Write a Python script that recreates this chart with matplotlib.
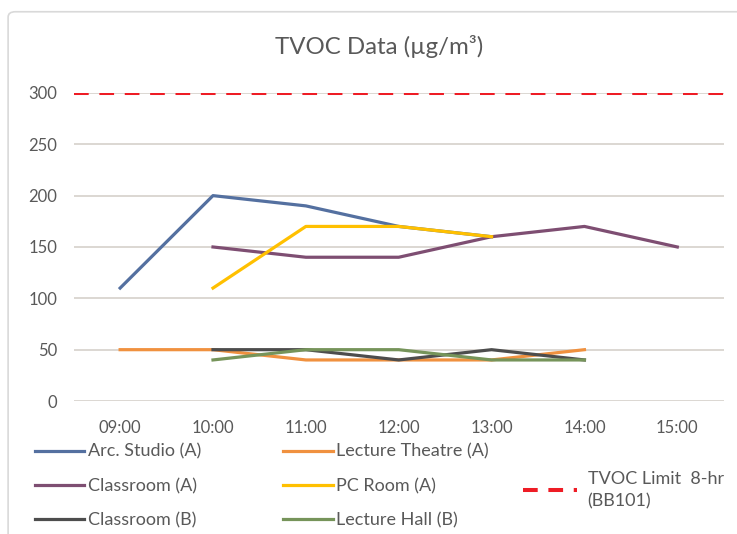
import matplotlib.pyplot as plt
from matplotlib.lines import Line2D
from matplotlib.patches import FancyBboxPatch
import numpy as np

plt.rcParams['font.family'] = ['Lato', 'DejaVu Sans']

hours = ["09:00", "10:00", "11:00", "12:00", "13:00", "14:00", "15:00"]
nan = np.nan

arc_studio_a = [110, 200, 190, 170, 160, nan, nan]
lecture_theatre_a = [50, 50, 40, 40, 40, 50, nan]
classroom_a = [nan, 150, 140, 140, 160, 170, 150]
pc_room_a = [nan, 110, 170, 170, 160, nan, nan]
classroom_b = [nan, 50, 50, 40, 50, 40, nan]
lecture_hall_b = [nan, 40, 50, 50, 40, 40, nan]
tvoc_limit = 300

series = [
    ("Arc. Studio (A)", arc_studio_a, "#5470a0"),
    ("Lecture Theatre (A)", lecture_theatre_a, "#f0913f"),
    ("Classroom (A)", classroom_a, "#7e4e72"),
    ("PC Room (A)", pc_room_a, "#ffc000"),
    ("Classroom (B)", classroom_b, "#4d4d4d"),
    ("Lecture Hall (B)", lecture_hall_b, "#76945a"),
]
LIMIT_COL = "#ee1c25"
TXT = "#595959"
LW = 2.3

fig = plt.figure(figsize=(7.37, 5.34), dpi=100)
ax = fig.add_axes([0.100, 0.249, 0.882, 0.577])

# chart frame
fig.patches.append(FancyBboxPatch((0.011, -0.05), 1.2, 1.028, boxstyle="round,pad=0,rounding_size=0.01",
                                  transform=fig.transFigure, fill=False, edgecolor="#d9d9d9", linewidth=1.2))

x = np.arange(len(hours))
for name, vals, col in series:
    ax.plot(x, vals, color=col, linewidth=LW)

ax.axhline(tvoc_limit, color=LIMIT_COL, linewidth=2.9, linestyle=(0, (3.65, 2.65)), zorder=3)

ax.set_xlim(-0.5, len(hours) - 0.5)
ax.set_ylim(0, 300)
ax.set_yticks(range(0, 301, 50))
ax.set_xticks(x)
ax.set_xticklabels(hours)
ax.grid(axis='y', color="#d9d4cf", linewidth=1.3)
ax.set_axisbelow(True)
for s in ax.spines.values():
    s.set_visible(False)
ax.tick_params(length=0, labelsize=12, labelcolor=TXT)
ax.tick_params(axis='x', pad=14)
ax.tick_params(axis='y', pad=12)

fig.text(0.514, 0.912, "TVOC Data (µg/m³)", ha='center', va='center', fontsize=17.3, color=TXT)

# legend: three fixed-width columns like the spreadsheet layout
def column_legend(items, x0, y0):
    hs = [Line2D([], [], color=c, linewidth=LW) for _, _, c in items]
    lg = fig.legend(hs, [n for n, _, _ in items], loc='center left', bbox_to_anchor=(x0, y0),
                    frameon=False, fontsize=13, handlelength=2.75, handletextpad=0.2,
                    labelspacing=1.0, borderaxespad=0, borderpad=0, labelcolor=TXT)
    return lg

column_legend([series[0], series[2], series[4]], 0.047, 0.0899)
column_legend([series[1], series[3], series[5]], 0.384, 0.0899)
lim_leg = fig.legend([Line2D([], [], color=LIMIT_COL, linewidth=2.9, linestyle=(0, (3.65, 2.65)))],
                     ["TVOC Limit  8-hr\n(BB101)"], loc='center left', bbox_to_anchor=(0.709, 0.082),
                     frameon=False, fontsize=13, handlelength=3.0, handletextpad=0.6,
                     borderaxespad=0, borderpad=0, labelcolor=TXT)
lim_leg.get_texts()[0].set_linespacing(1.5)

fig.savefig("out.png", dpi=100)
